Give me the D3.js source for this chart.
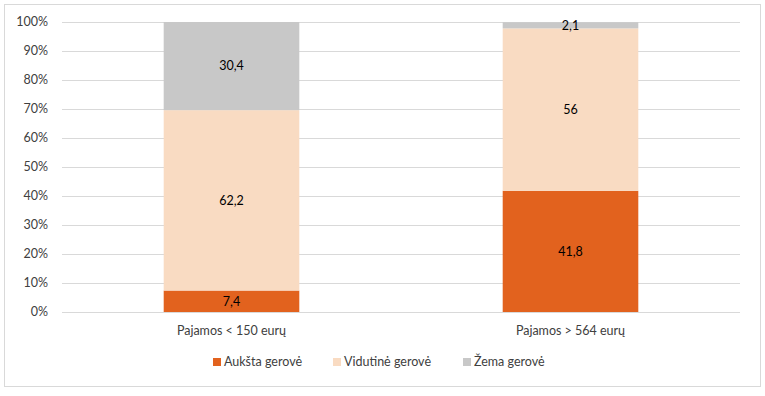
<!DOCTYPE html>
<html lang="lt">
<head>
<meta charset="UTF-8">
<title>Gerovė pagal pajamas</title>
<script src="https://cdn.jsdelivr.net/npm/d3@7"></script>
<style>
  body { margin: 0; background: #fff; }
  svg { font-family: Lato, "Open Sans", sans-serif; }
</style>
</head>
<body>
<div id="chart"></div>
<script>
// data
var categories = ["Pajamos < 150 eurų", "Pajamos > 564 eurų"];
var seriesNames = ["Aukšta gerovė", "Vidutinė gerovė", "Žema gerovė"];
var auksta = [7.4, 41.8];
var vidutine = [62.2, 56];
var zema = [30.4, 2.1];
var yTicks = [0, 10, 20, 30, 40, 50, 60, 70, 80, 90, 100];

var colors = ["#E2621E", "#F9DBC2", "#C8C8C8"];

var W = 765, H = 396;
var margin = {left: 62, right: 25, top: 22, bottom: 84};

var svg = d3.select("#chart").append("svg")
  .attr("width", W).attr("height", H);

// chart frame
svg.append("rect")
  .attr("x", 4.5).attr("y", 4.5)
  .attr("width", 756).attr("height", 382)
  .attr("fill", "#fff").attr("stroke", "#d9d9d9");

var x = d3.scaleBand().domain(categories)
  .range([margin.left, W - margin.right]).paddingInner(0.6).paddingOuter(0.3);
var y = d3.scaleLinear().domain([0, 100]).range([H - margin.bottom, margin.top]);

// gridlines
svg.selectAll("line.grid").data(yTicks).enter().append("line")
  .attr("class", "grid")
  .attr("x1", margin.left).attr("x2", W - margin.right)
  .attr("y1", function(d) { return Math.round(y(d)) + 0.5; })
  .attr("y2", function(d) { return Math.round(y(d)) + 0.5; })
  .attr("stroke", "#d9d9d9");

// y labels
svg.selectAll("text.ytick").data(yTicks).enter().append("text")
  .attr("class", "ytick")
  .attr("x", 48).attr("y", function(d) { return y(d); })
  .attr("dy", "0.35em").attr("text-anchor", "end")
  .attr("font-size", 12.5).attr("fill", "#404040")
  .text(function(d) { return d + "%"; });

// stack
var rows = categories.map(function(c, i) {
  return {cat: c, s0: auksta[i], s1: vidutine[i], s2: zema[i]};
});
var stack = d3.stack().keys(["s0", "s1", "s2"]);
var layers = stack(rows);

var g = svg.selectAll("g.layer").data(layers).enter().append("g")
  .attr("class", "layer")
  .attr("fill", function(d, i) { return colors[i]; });

g.selectAll("rect").data(function(d) { return d; }).enter().append("rect")
  .attr("x", function(d) { return x(d.data.cat); })
  .attr("width", x.bandwidth())
  .attr("y", function(d) { return y(d[1]); })
  .attr("height", function(d) { return y(d[0]) - y(d[1]); });

g.selectAll("text").data(function(d) { return d; }).enter().append("text")
  .attr("x", function(d) { return x(d.data.cat) + x.bandwidth() / 2; })
  .attr("y", function(d) { return y((d[0] + d[1]) / 2); })
  .attr("dy", "0.35em").attr("text-anchor", "middle")
  .attr("font-size", 12.5).attr("fill", "#000")
  .text(function(d) { return String(+(d[1] - d[0]).toFixed(1)).replace(".", ","); });

// x labels
svg.selectAll("text.xcat").data(categories).enter().append("text")
  .attr("class", "xcat")
  .attr("x", function(d) { return x(d) + x.bandwidth() / 2; })
  .attr("y", 331).attr("dy", "0.35em").attr("text-anchor", "middle")
  .attr("font-size", 12.5).attr("fill", "#404040")
  .text(function(d) { return d; });

// legend
var legX = [213, 333, 463];
var leg = svg.selectAll("g.leg").data(seriesNames).enter().append("g")
  .attr("class", "leg")
  .attr("transform", function(d, i) { return "translate(" + legX[i] + ",362)"; });
leg.append("rect").attr("x", 0).attr("y", -4).attr("width", 8).attr("height", 8)
  .attr("fill", function(d, i) { return colors[i]; });
leg.append("text").attr("x", 11).attr("dy", "0.35em")
  .attr("font-size", 12.5).attr("fill", "#404040")
  .text(function(d) { return d; });
</script>
</body>
</html>
